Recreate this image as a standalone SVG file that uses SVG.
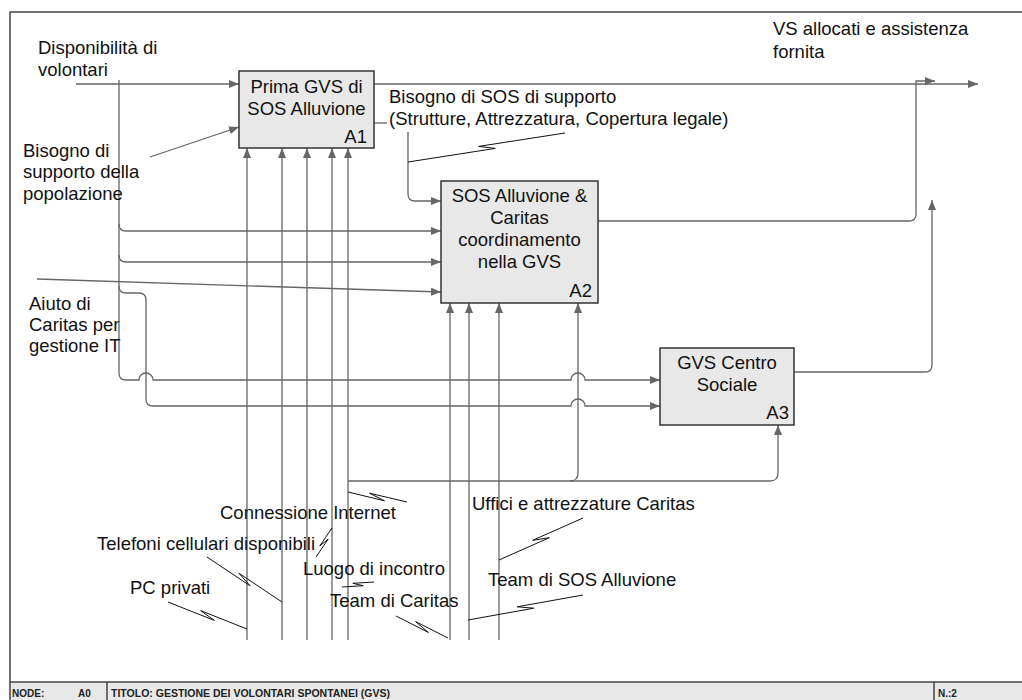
<svg xmlns="http://www.w3.org/2000/svg" width="1022" height="700" viewBox="0 0 1022 700">
<style>
.t{font-family:"Liberation Sans",Arial,sans-serif;font-size:18.5px;fill:#111}
.c{text-anchor:middle}
.r{text-anchor:end}
.box{fill:#e8e8e8;stroke:#333;stroke-width:1.5}
.ln{fill:none;stroke:#666;stroke-width:1.3}
.sq{fill:none;stroke:#111;stroke-width:1}
.ft{font-family:"Liberation Sans",Arial,sans-serif;font-size:10px;font-weight:bold;fill:#222}
.fr{fill:none;stroke:#444;stroke-width:1.5}
</style>
<defs>
<marker id="ah" markerUnits="userSpaceOnUse" markerWidth="10" markerHeight="8" refX="10" refY="4" orient="auto">
<path d="M0,0 L10,4 L0,8 z" fill="#666"/>
</marker>
</defs>
<rect width="1022" height="700" fill="#fff"/>
<g id="frame">
<rect x="10" y="682" width="1012" height="18" fill="#e8e8e8"/>
<path class="fr" d="M10,700 V12 H1022"/>
<path class="fr" d="M10,682 H1022 M107,682 V700 M934,682 V700"/>
<text class="ft" x="12" y="697">NODE:</text>
<text class="ft" x="78" y="697">A0</text>
<text class="ft" x="111" y="697" textLength="279" lengthAdjust="spacingAndGlyphs">TITOLO: GESTIONE DEI VOLONTARI SPONTANEI (GVS)</text>
<text class="ft" x="938" y="697">N.:2</text>
</g>
<g id="connectors">
<path class="ln" d="M76,84 H239" marker-end="url(#ah)"/>
<path class="ln" d="M150,157 L239,127" marker-end="url(#ah)"/>
<path class="ln" d="M37,279 L441,292" marker-end="url(#ah)"/>
<path class="ln" d="M119,80 V373 Q119,380 126,380 H139 A7,7 0 0 1 153,380 H571 A7,7 0 0 1 585,380 H660" marker-end="url(#ah)"/>
<path class="ln" d="M119,224 Q119,231 126,231 H441" marker-end="url(#ah)"/>
<path class="ln" d="M119,255 Q119,262 126,262 H441" marker-end="url(#ah)"/>
<path class="ln" d="M119,286 Q119,293 126,293 H139 Q146,293 146,300 V399 Q146,406 153,406 H571 A7,7 0 0 1 585,406 H660" marker-end="url(#ah)"/>
<path class="ln" d="M374,84 H978" marker-end="url(#ah)"/>
<path class="ln" d="M374,123 H387"/>
<path class="ln" d="M408,132 V194 Q408,201 415,201 H441" marker-end="url(#ah)"/>
<path class="ln" d="M598,221 H909 Q916,221 916,214 V81 H935" marker-end="url(#ah)"/>
<path class="ln" d="M794,372 H925 Q932,372 932,365 V200" marker-end="url(#ah)"/>
<path class="ln" d="M247,640 V148" marker-end="url(#ah)"/>
<path class="ln" d="M282,640 V148" marker-end="url(#ah)"/>
<path class="ln" d="M307,640 V148" marker-end="url(#ah)"/>
<path class="ln" d="M332,640 V148" marker-end="url(#ah)"/>
<path class="ln" d="M348,640 V148" marker-end="url(#ah)"/>
<path class="ln" d="M450,640 V303" marker-end="url(#ah)"/>
<path class="ln" d="M469,640 V303" marker-end="url(#ah)"/>
<path class="ln" d="M499,640 V303" marker-end="url(#ah)"/>
<path class="ln" d="M348,481 H770 Q778,481 778,473 V425" marker-end="url(#ah)"/>
<path class="ln" d="M570,481 Q578,481 578,473 V303" marker-end="url(#ah)"/>
<path class="sq" d="M408,162 L495.3,148.4 L478.7,146.4 L565,133"/>
<path class="sq" d="M168,602 L214.3,620.4 L200.7,610.6 L247,629"/>
<path class="sq" d="M207,557 L250.1,585.8 L238.9,573.2 L282,602"/>
<path class="sq" d="M316,557 L328.2,539.1 L319.8,545.9 L332,528"/>
<path class="sq" d="M348,492 L384.5,500.8 L369.5,493.2 L407,502"/>
<path class="sq" d="M342,587 L363.2,585.7 L352.8,583.3 L374,582"/>
<path class="sq" d="M396,616 L428.4,632.4 L415.6,621.6 L448,638"/>
<path class="sq" d="M499,560 L549.3,537.7 L532.7,540.3 L583,518"/>
<path class="sq" d="M468,620 L533.8,608.2 L517.2,606.8 L583,595"/>
</g>
<g id="A1">
<rect class="box" x="239" y="71" width="135" height="77"/>
<text class="t c" x="306.5" y="93">Prima GVS di</text>
<text class="t c" x="306.5" y="115">SOS Alluvione</text>
<text class="t r" x="367" y="143">A1</text>
</g>
<g id="A2">
<rect class="box" x="441" y="181" width="157" height="122"/>
<text class="t c" x="519.5" y="202">SOS Alluvione &amp;</text>
<text class="t c" x="519.5" y="224">Caritas</text>
<text class="t c" x="519.5" y="246">coordinamento</text>
<text class="t c" x="519.5" y="268">nella GVS</text>
<text class="t r" x="592" y="297">A2</text>
</g>
<g id="A3">
<rect class="box" x="660" y="348" width="134" height="77"/>
<text class="t c" x="727" y="369">GVS Centro</text>
<text class="t c" x="727" y="391">Sociale</text>
<text class="t r" x="789" y="419">A3</text>
</g>
<g id="labels">
<text class="t" x="38" y="54">Disponibilità di</text>
<text class="t" x="38" y="76">volontari</text>
<text class="t" x="23" y="157">Bisogno di</text>
<text class="t" x="23" y="178">supporto della</text>
<text class="t" x="23" y="200">popolazione</text>
<text class="t" x="29" y="310">Aiuto di</text>
<text class="t" x="29" y="331">Caritas per</text>
<text class="t" x="29" y="352">gestione IT</text>
<text class="t" x="773" y="35">VS allocati e assistenza</text>
<text class="t" x="773" y="58">fornita</text>
<text class="t" x="389" y="103">Bisogno di SOS di supporto</text>
<text class="t" x="389" y="125">(Strutture, Attrezzatura, Copertura legale)</text>
<text class="t" x="220" y="519">Connessione Internet</text>
<text class="t" x="97" y="550">Telefoni cellulari disponibili</text>
<text class="t" x="130" y="594">PC privati</text>
<text class="t" x="303" y="575">Luogo di incontro</text>
<text class="t" x="330" y="607">Team di Caritas</text>
<text class="t" x="472" y="510">Uffici e attrezzature Caritas</text>
<text class="t" x="488" y="586">Team di SOS Alluvione</text>
</g>
</svg>
